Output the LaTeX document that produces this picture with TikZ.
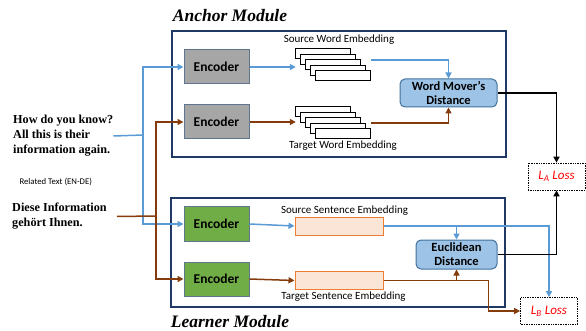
\documentclass[tikz,border=0pt]{standalone}
\usepackage{fontspec}
\setmainfont{Liberation Serif}
\setsansfont{Carlito}
\usetikzlibrary{arrows.meta}

\definecolor{srcblue}{HTML}{5B9BD5}
\definecolor{tgtbrown}{HTML}{843C0C}
\definecolor{navy}{HTML}{1F3864}
\definecolor{encgray}{HTML}{A6A6A6}
\definecolor{encline}{HTML}{5F7590}
\definecolor{encgreen}{HTML}{70AD47}
\definecolor{distfill}{HTML}{9DC3E6}
\definecolor{distline}{HTML}{41719C}
\definecolor{sentfill}{HTML}{FBE5D6}
\definecolor{sentline}{HTML}{ED7D31}

\begin{document}
\begin{tikzpicture}[x=1pt, y=-1pt, >={Triangle[length=6pt,width=6pt]},
    module/.style={draw=navy, line width=2.5pt, minimum width=334pt},
    modtitle/.style={font=\bfseries\itshape\fontsize{17.5}{20}\selectfont},
    encoder/.style={draw=encline, line width=1pt, minimum width=65pt, minimum height=34pt,
        font=\sffamily\bfseries\fontsize{13.5}{16}\selectfont},
    dist/.style={draw=distline, fill=distfill, line width=1pt, rounded corners=5pt, align=center,
        inner sep=0pt, font=\sffamily\bfseries\fontsize{12.5}{14}\selectfont},
    sentbox/.style={draw=sentline, fill=sentfill, line width=1pt, minimum width=88pt, minimum height=18pt},
    stack/.style={inner sep=0pt, minimum width=75pt, minimum height=32pt},
    embrect/.style={draw, fill=white, line width=0.9pt},
    loss/.style={draw, densely dotted, line width=0.7pt, minimum width=57pt, minimum height=27pt,
        text=red, font=\sffamily\itshape\fontsize{13}{15}\selectfont},
    lbl/.style={font=\sffamily\fontsize{11}{13}\selectfont},
    sample/.style={anchor=west, align=left, inner sep=0pt, font=\bfseries\fontsize{12.2}{15}\selectfont},
    srcline/.style={srcblue, line width=1.5pt},
    tgtline/.style={tgtbrown, line width=1.5pt}]

\useasboundingbox (0,0) rectangle (586,331);

% modules
\node[module, minimum height=126pt] (anchor) at (339,94) {};
\node[modtitle] (anchortitle) at (230,16) {Anchor Module};
\node[module, minimum height=109pt] (learner) at (338,252.5) {};
\node[modtitle] (learnertitle) at (230,322) {Learner Module};

% anchor module
\node[encoder, fill=encgray] (enc1) at (216.5,67) {Encoder};
\node[encoder, fill=encgray] (enc2) at (216.5,122) {Encoder};
\node[stack] (sw) at (333.5,65) {};
\node[stack] (tw) at (333.5,123) {};
\foreach \i in {0,...,4} {
    \draw[embrect] ([shift={(5*\i,5.5*\i)}]sw.north west) rectangle ++(55,10);
    \draw[embrect] ([shift={(5*\i,5.5*\i)}]tw.north west) rectangle ++(55,10);
}
\node[lbl] (swlbl) at (339,40) {Source Word Embedding};
\node[lbl] (twlbl) at (343,146) {Target Word Embedding};
\node[dist, minimum width=97pt, minimum height=28pt] (wmd) at (448.5,93) {Word Mover's\\Distance};

% learner module
\node[encoder, fill=encgreen] (enc3) at (216.5,224) {Encoder};
\node[encoder, fill=encgreen] (enc4) at (216.5,279) {Encoder};
\node[sentbox] (sse) at (339,226) {};
\node[sentbox] (tse) at (339,280.5) {};
\node[lbl] (sselbl) at (344.5,211) {Source Sentence Embedding};
\node[lbl] (tselbl) at (343.5,297) {Target Sentence Embedding};
\node[dist, minimum width=81pt, minimum height=29pt] (euc) at (456.5,254.5) {Euclidean\\Distance};

% losses
\node[loss] (la) at (556.5,176.5) {L\textsubscript{A} Loss};
\node[loss] (lb) at (549,311) {L\textsubscript{B} Loss};

% inputs
\node[sample] (txt1) at (13,136) {How do you know?\\All this is their\\information again.};
\node[lbl, anchor=west, font=\sffamily\fontsize{8.7}{10}\selectfont] (rel) at (16,182) {Related Text (EN-DE)};
\node[sample] (txt2) at (12,216.5) {Diese Information\\gehört Ihnen.};
\coordinate (bsplit) at (143,135);
\coordinate (rsplit) at (156,216);

\draw[srcline] (txt1.east) -- (bsplit);
\draw[srcline, ->] (bsplit) |- (enc1.west);
\draw[srcline, ->] (bsplit) |- (enc3.west);
\draw[tgtline] ([xshift=10]txt2.east) -- (rsplit);
\draw[tgtline, ->] (rsplit) |- (enc2.west);
\draw[tgtline, ->] (rsplit) |- (enc4.west);

% anchor connectors
\draw[srcline, ->] (enc1.east) -- (enc1.east -| sw.west);
\draw[tgtline, ->] (enc2.east) -- (enc2.east -| tw.west);
\draw[srcline, ->] ([yshift=5]sw.east) -| (wmd.north);
\draw[tgtline, ->] (tw.east) -| (wmd.south);
\draw[line width=1.5pt, ->] (wmd.east) -| (la.north);

% learner connectors
\draw[srcline, ->] (enc3.east) -- (sse.west);
\draw[tgtline, ->] (enc4.east) -- (tse.west);
\draw[srcline, ->] (sse.east) -| (lb.north);
\draw[srcline, ->] (sse.east -| euc.north) -- (euc.north);
\draw[tgtline, ->] (tse.east) -- ++(105,0) |- (lb.west);
\draw[tgtline, ->] (tse.east -| euc.south) -- (euc.south);
\draw[line width=1.5pt, ->] (euc.east) -| (la.south);

\end{tikzpicture}
\end{document}
